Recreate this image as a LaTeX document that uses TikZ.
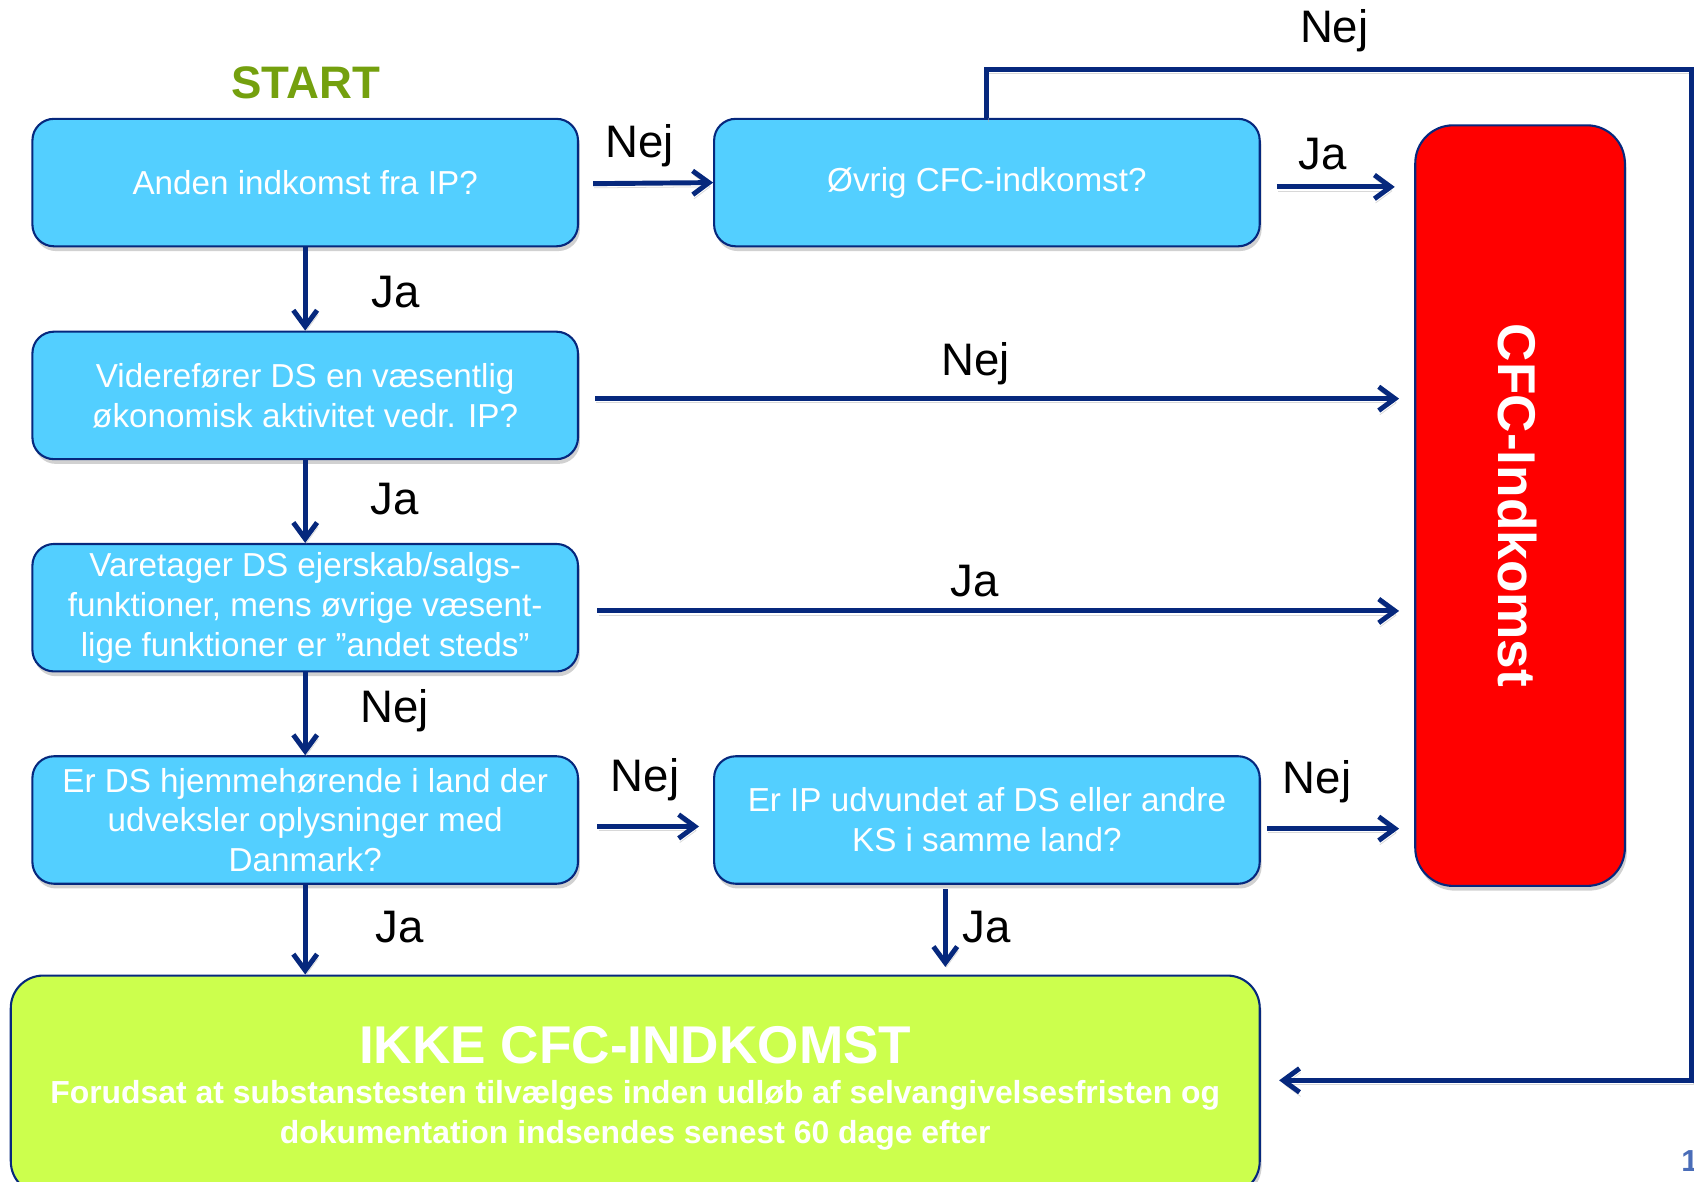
\documentclass[tikz,border=0pt]{standalone}
\usepackage{fontspec}
\setmainfont{Liberation Sans}
\usetikzlibrary{arrows.meta,shadows,calc}
\definecolor{boxblue}{RGB}{83,207,255}
\definecolor{navy}{RGB}{6,40,125}
\definecolor{cfcred}{RGB}{255,0,0}
\definecolor{limegreen}{RGB}{204,255,77}
\definecolor{startgreen}{RGB}{116,160,14}
\definecolor{pagenum}{RGB}{74,109,184}
\begin{document}
\begin{tikzpicture}[x=0.2mm,y=-0.2mm,
  shad/.style={drop shadow={shadow xshift=1pt,shadow yshift=-2.5pt,opacity=0.3,fill=black!60}},
  qbox/.style={draw=navy,line width=1.1pt,fill=boxblue,rounded corners=4mm,
    minimum width=101mm,minimum height=23.6mm,align=center,text=white,
    font=\fontsize{17.5}{21}\selectfont,inner sep=0pt,shad},
  redbox/.style={draw=navy,line width=1.1pt,fill=cfcred,rounded corners=7mm,
    minimum width=38.8mm,minimum height=140.8mm,inner sep=0pt,shad},
  greenbox/.style={draw=navy,line width=1.1pt,fill=limegreen,rounded corners=6mm,
    minimum width=231.2mm,minimum height=40.4mm,inner sep=0pt,shad},
  lbl/.style={font=\fontsize{24}{28}\selectfont,text=black,inner sep=0pt},
  arr/.style={draw=navy,line width=2.6pt,-{Straight Barb[length=3mm,width=4.4mm]},
    preaction={draw=black!30,opacity=0.5,transform canvas={xshift=0.6pt,yshift=-2.2pt}}},
]
\useasboundingbox (0,0) rectangle (1568,1094);

\node[font=\bfseries\fontsize{24}{28}\selectfont,text=startgreen,inner sep=0pt] (start) at (283,77) {START};

\node[qbox] (b1) at (282.5,169) {Anden indkomst fra IP?};
\node[qbox] (b2) at (913.5,169) {Øvrig CFC-indkomst?};
\node[qbox] (b3) at (282.5,366) {Viderefører DS en væsentlig\\økonomisk aktivitet vedr. IP?};
\node[qbox] (b4) at (282.5,562.5) {Varetager DS ejerskab/salgs-\\funktioner, mens øvrige væsent-\\lige funktioner er ”andet steds”};
\node[qbox] (b5) at (282.5,759) {Er DS hjemmehørende i land der\\udveksler oplysninger med\\Danmark?};
\node[qbox] (b6) at (913.5,759) {Er IP udvundet af DS eller andre\\KS i samme land?};

\node[redbox] (red) at (1407,468) {};
\node[rotate=-90,font=\bfseries\fontsize{28}{32}\selectfont,text=white,inner sep=0pt] (redtxt) at (1405,468) {CFC-Indkomst};

\node[greenbox] (g) at (588,1004) {};
\node[font=\bfseries\fontsize{28}{32}\selectfont,text=white,inner sep=0pt] (gt) at (588,967) {IKKE CFC-INDKOMST};
\node[font=\bfseries\fontsize{16.8}{21}\selectfont,text=white,inner sep=0pt,align=center] (gs) at (588,1032) {Forudsat at substanstesten tilvælges inden udløb af selvangivelsesfristen og\\dokumentation indsendes senest 60 dage efter};

\node[font=\bfseries\fontsize{16}{18}\selectfont,text=pagenum,inner sep=0pt,anchor=west] (pg) at (1556,1075) {1};

% connectors
\draw[arr] ($(b1.east)+(13,1)$) -- (b2.west);
\draw[arr] ($(b2.east)+(15,4)$) -- ($(b2.east -| red.west)+(-18,4)$);
\draw[arr] ($(b3.east)+(15,3)$) -- ($(b3.east -| red.west)+(-14,3)$);
\draw[arr] ($(b4.east)+(17,3)$) -- ($(b4.east -| red.west)+(-14,3)$);
\draw[arr] ($(b5.east)+(17,6)$) -- ($(b6.west)+(-13,6)$);
\draw[arr] ($(b6.east)+(6,8)$) -- ($(b6.east -| red.west)+(-14,8)$);
\draw[arr] (b1.south) -- (b3.north);
\draw[arr] (b3.south) -- (b4.north);
\draw[arr] (b4.south) -- (b5.north);
\draw[arr] (b5.south) -- (b5.south |- g.north);
\coordinate (b6d) at ($(b6.south)+(-38.5,4)$);
\draw[arr,shorten >=1.4mm] (b6d) -- (b6d |- g.north);
\coordinate (tr) at (1566,64);
\coordinate (br) at (1566,1000);
\draw[arr] (b2.north) -- (b2.north |- tr) -- (tr) -- (br) -- ($(br -| g.east)+(17,0)$);

% labels
\node[lbl] (l1) at (592,135) {Nej};
\node[lbl] (l2) at (1235,28) {Nej};
\node[lbl] (l3) at (1224,143) {Ja};
\node[lbl] (l4) at (366,270) {Ja};
\node[lbl] (l5) at (903,337) {Nej};
\node[lbl] (l6) at (365,462) {Ja};
\node[lbl] (l7) at (902,538) {Ja};
\node[lbl] (l8) at (365,658) {Nej};
\node[lbl] (l9) at (597,722) {Nej};
\node[lbl] (l10) at (1219,724) {Nej};
\node[lbl] (l11) at (370,858) {Ja};
\node[lbl] (l12) at (913,858) {Ja};
\end{tikzpicture}
\end{document}
